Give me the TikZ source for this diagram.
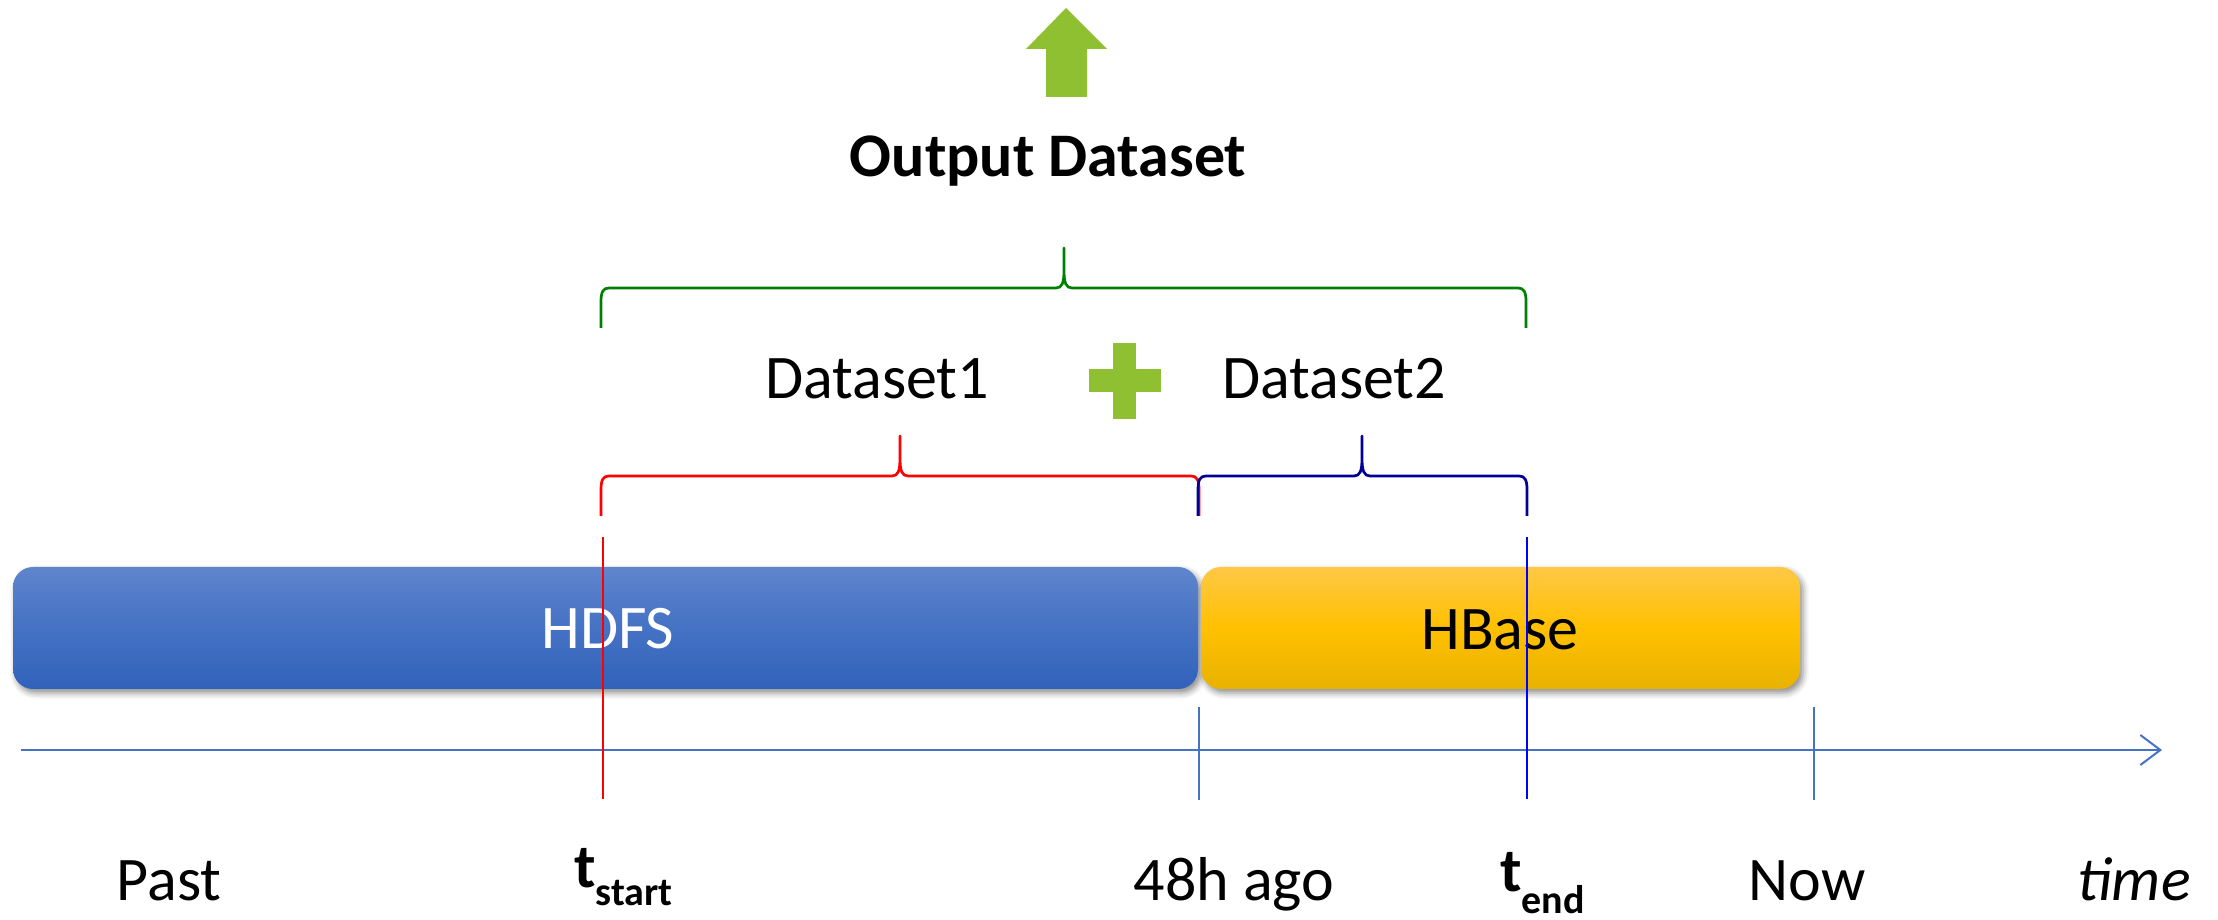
\documentclass[tikz,border=0pt]{standalone}
\usepackage{fontspec}
\setmainfont{Carlito}
\usetikzlibrary{arrows.meta,shadows.blur}

\definecolor{hdfstop}{RGB}{95,133,205}
\definecolor{hdfsmid}{RGB}{69,114,196}
\definecolor{hdfsbot}{RGB}{49,98,186}
\definecolor{hbasetop}{RGB}{255,200,70}
\definecolor{hbasemid}{RGB}{255,192,0}
\definecolor{hbasebot}{RGB}{232,178,0}
\definecolor{axisblue}{RGB}{68,114,196}
\definecolor{leafgreen}{RGB}{143,192,49}
\definecolor{bracegreen}{RGB}{0,128,0}
\definecolor{bracered}{RGB}{255,0,0}
\definecolor{bracenavy}{RGB}{0,0,150}
\definecolor{endblue}{RGB}{0,0,255}

\newcommand\bigtext{\fontsize{62}{74}\selectfont}
\newcommand\subtext{\fontsize{40}{48}\selectfont}

% curly brace lying over a span: left x, right x, tip x, line y
\newcommand\spanbrace[5]{%
  \draw[bracestroke,#5]
    (#1,{#4-40}) -- (#1,{#4-14}) .. controls (#1,{#4-4}) and ({#1+2},#4) .. ({#1+8},#4)
    -- ({#3-8},#4) .. controls ({#3-2},#4) and (#3,{#4+5}) .. (#3,{#4+18}) -- (#3,{#4+40})
    -- (#3,{#4+18}) .. controls (#3,{#4+5}) and ({#3+2},#4) .. ({#3+8},#4)
    -- ({#2-8},#4) .. controls ({#2-2},#4) and (#2,{#4-4}) .. (#2,{#4-14}) -- (#2,{#4-40});}

\begin{document}
\begin{tikzpicture}[x=1pt,y=1pt,
  label/.style={inner sep=0,outer sep=0,font=\bigtext,anchor=base},
  storebar/.style={rounded corners=20pt,inner sep=0,outer sep=0,
    minimum height=122pt,font=\bigtext,
    blur shadow={shadow xshift=3pt,shadow yshift=-4pt,shadow blur radius=6pt,shadow opacity=45}},
  bracestroke/.style={line width=2.7pt,line join=round,line cap=butt},
  marker/.style={line width=2.7pt},
  tick/.style={axisblue,line width=2pt},
  timeaxis/.style={axisblue,line width=2pt,-{Straight Barb[length=20pt,width=30pt,line width=2pt]}}]

\useasboundingbox (0,0) rectangle (2218,920);

% storage tiers
\node[storebar,minimum width=1185pt,top color=hdfstop,bottom color=hdfsbot,middle color=hdfsmid,
  text=white] (hdfs) at (605.5,292) {};
\node[storebar,minimum width=599pt,top color=hbasetop,bottom color=hbasebot,middle color=hbasemid]
  (hbase) at (1500.5,292) {};
\node[label,text=white] (hdfslbl) at (608,271) {HDFS};
\node[label] (hbaselbl) at (1500,270) {HBase};

% time axis with ticks
\coordinate (axstart) at (21,170);
\coordinate (axend) at (2162,170);
\draw[timeaxis] (axstart) -- (axend);
\coordinate (t48a) at (1199,213);
\coordinate (t48b) at (1199,120);
\coordinate (nowa) at (1814,213);
\coordinate (nowb) at (1814,120);
\draw[tick] (t48a) -- (t48b);
\draw[tick] (nowa) -- (nowb);

% query window boundaries
\coordinate (starttop) at (603,383);
\coordinate (startbot) at (603,121);
\coordinate (endtop) at (1527,383);
\coordinate (endbot) at (1527,121);
\draw[marker,bracered] (starttop) -- (startbot);
\draw[marker,endblue] (endtop) -- (endbot);

% braces
\spanbrace{601}{1199}{900}{444}{bracered}
\spanbrace{1198}{1527}{1362}{444}{bracenavy}
\spanbrace{601}{1526}{1064}{632}{bracegreen}

% dataset labels and plus sign
\node[label] (ds1) at (877,521) {Dataset1};
\node[label] (ds2) at (1334,521) {Dataset2};
\fill[leafgreen] (1113,501) rectangle (1136,577);
\fill[leafgreen] (1089,528) rectangle (1161,551);

% output
\node[label,font=\bigtext\bfseries] (out) at (1048,743) {Output Dataset};
\fill[leafgreen] (1046,823) -- (1087,823) -- (1087,871) -- (1107,871) -- (1066,912)
  -- (1026,871) -- (1046,871) -- cycle;

% axis labels
\node[label] (past) at (169,19) {Past};
\node[label,anchor=base west] (tstart) at (574,32) {\bfseries t\raisebox{-18pt}{\subtext\bfseries start}};
\node[label] (ago) at (1234,19) {48h ago};
\node[label,anchor=base west] (tend) at (1500,28) {\bfseries t\raisebox{-22pt}{\subtext\bfseries end}};
\node[label] (now) at (1807,19) {Now};
\node[label] (time) at (2134,19) {\itshape time};
\end{tikzpicture}
\end{document}
